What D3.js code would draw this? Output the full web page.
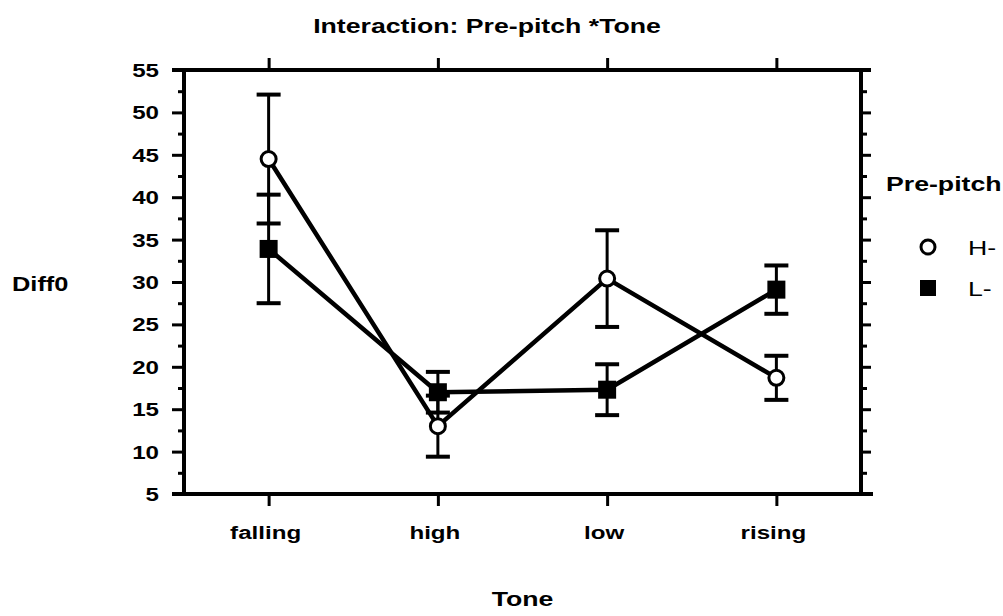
<!DOCTYPE html>
<html>
<head>
<meta charset="utf-8">
<script src="https://cdn.jsdelivr.net/npm/d3@7"></script>
<style>
  body { margin: 0; background: #fff; }
  text { font-family: "Liberation Sans", Arial, Helvetica, sans-serif; fill: #000; }
</style>
</head>
<body>
<svg id="chart"></svg>
<script>
// data
var tones = ["falling", "high", "low", "rising"];
var hMeans = [44.5, 13.0, 30.4, 18.7];
var hErr = [7.6, 3.6, 5.7, 2.6];
var lMeans = [33.9, 17.0, 17.3, 29.1];
var lErr = [6.4, 2.4, 3.0, 2.85];
var yTicks = [5, 10, 15, 20, 25, 30, 35, 40, 45, 50, 55];
var yMinor = [7.5, 12.5, 17.5, 22.5, 27.5, 32.5, 37.5, 42.5, 47.5, 52.5];
var seriesNames = ["H-", "L-"];

var W = 1003, H = 616;
var margin = { top: 70, right: 142, bottom: 122, left: 184 };
var plotW = W - margin.left - margin.right,
    plotH = H - margin.top - margin.bottom;
var stretch = 1.27; // the scan is wider than tall

var svg = d3.select("#chart").attr("width", W).attr("height", H);
svg.append("rect").attr("width", W).attr("height", H).attr("fill", "#fff");

var x = d3.scalePoint().domain(tones).range([0, plotW]).padding(0.5);
var y = d3.scaleLinear().domain([5, 55]).range([plotH, 0]);

var g = svg.append("g").attr("transform", "translate(" + margin.left + "," + margin.top + ")");

function label(sel, tx, ty) {
  return sel.attr("transform", "translate(" + tx + "," + ty + ") scale(" + stretch + ",1)");
}

// axes
function styleAxis(a) {
  a.select(".domain").remove();
  a.selectAll("line").attr("stroke", "#000").attr("stroke-width", 3);
}
var leftAx = g.append("g").call(d3.axisLeft(y).tickValues(yTicks).tickSize(12).tickFormat(""));
styleAxis(leftAx);
var leftMinor = g.append("g").call(d3.axisLeft(y).tickValues(yMinor).tickSize(6).tickFormat(""));
styleAxis(leftMinor);
var rightAx = g.append("g").attr("transform", "translate(" + plotW + ",0)")
  .call(d3.axisRight(y).tickValues(yTicks).tickSize(10).tickFormat(""));
styleAxis(rightAx);
var rightMinor = g.append("g").attr("transform", "translate(" + plotW + ",0)")
  .call(d3.axisRight(y).tickValues(yMinor).tickSize(6).tickFormat(""));
styleAxis(rightMinor);
var topAx = g.append("g").call(d3.axisTop(x).tickSize(12).tickFormat(""));
styleAxis(topAx);
var bottomAx = g.append("g").attr("transform", "translate(0," + plotH + ")")
  .call(d3.axisBottom(x).tickSize(12).tickFormat(""));
styleAxis(bottomAx);

// frame
g.append("line").attr("x1", 0).attr("x2", 0).attr("y1", 0).attr("y2", plotH)
  .attr("stroke", "#000").attr("stroke-width", 4);
g.append("line").attr("x1", plotW).attr("x2", plotW).attr("y1", 0).attr("y2", plotH)
  .attr("stroke", "#000").attr("stroke-width", 4);
g.append("line").attr("x1", -12).attr("x2", plotW + 10).attr("y1", y(55)).attr("y2", y(55))
  .attr("stroke", "#000").attr("stroke-width", 4);
g.append("line").attr("x1", -12).attr("x2", plotW + 12).attr("y1", y(5)).attr("y2", y(5))
  .attr("stroke", "#000").attr("stroke-width", 4);

// tick labels
yTicks.forEach(function(v) {
  label(g.append("text"), -25, y(v) + 7)
    .attr("text-anchor", "end").style("font-size", "19px").style("font-weight", "bold").text(v);
});
tones.forEach(function(t) {
  label(g.append("text"), x(t) - 3, plotH + 45)
    .attr("text-anchor", "middle").style("font-size", "19px").style("font-weight", "bold").text(t);
});

// series
var series = [
  { name: seriesNames[0], means: hMeans, err: hErr, shape: "circle" },
  { name: seriesNames[1], means: lMeans, err: lErr, shape: "square" }
];
var line = d3.line().x(function(d) { return x(d.t); }).y(function(d) { return y(d.v); });

series.forEach(function(s) {
  s.pts = tones.map(function(t, i) { return { t: t, v: s.means[i], e: s.err[i] }; });
  g.append("path").datum(s.pts).attr("d", line)
    .attr("fill", "none").attr("stroke", "#000").attr("stroke-width", 4.5).attr("stroke-linejoin", "round");
});

series.forEach(function(s) {
  var eb = g.append("g").selectAll("g").data(s.pts).enter().append("g");
  eb.append("line")
    .attr("x1", function(d) { return x(d.t); }).attr("x2", function(d) { return x(d.t); })
    .attr("y1", function(d) { return y(d.v - d.e); }).attr("y2", function(d) { return y(d.v + d.e); })
    .attr("stroke", "#000").attr("stroke-width", 3);
  [1, -1].forEach(function(sign) {
    eb.append("line")
      .attr("x1", function(d) { return x(d.t) - 12; }).attr("x2", function(d) { return x(d.t) + 12; })
      .attr("y1", function(d) { return y(d.v + sign * d.e); }).attr("y2", function(d) { return y(d.v + sign * d.e); })
      .attr("stroke", "#000").attr("stroke-width", 4);
  });
});

series.forEach(function(s) {
  var m = g.append("g").selectAll(".m").data(s.pts).enter();
  if (s.shape === "circle") {
    m.append("ellipse").attr("cx", function(d) { return x(d.t); }).attr("cy", function(d) { return y(d.v); })
      .attr("rx", 7.5).attr("ry", 7.5).attr("fill", "#fff").attr("stroke", "#000").attr("stroke-width", 3);
  } else {
    m.append("rect").attr("x", function(d) { return x(d.t) - 9; }).attr("y", function(d) { return y(d.v) - 9; })
      .attr("width", 18).attr("height", 18).attr("fill", "#000");
  }
});

// titles
label(svg.append("text"), 487, 33).attr("text-anchor", "middle")
  .style("font-size", "21px").style("font-weight", "bold").text("Interaction: Pre-pitch *Tone");
label(svg.append("text"), 12, 291)
  .style("font-size", "20px").style("font-weight", "bold").text("Diff0");
label(svg.append("text"), margin.left + plotW / 2, 606).attr("text-anchor", "middle")
  .style("font-size", "21px").style("font-weight", "bold").text("Tone");

// legend
var lg = svg.append("g").attr("transform", "translate(886,0)");
label(lg.append("text"), 0, 191).style("font-size", "21px").style("font-weight", "bold").text("Pre-pitch");
series.forEach(function(s, i) {
  var cy = 247 + i * 41;
  if (s.shape === "circle") {
    lg.append("circle").attr("cx", 42).attr("cy", cy).attr("r", 7)
      .attr("fill", "#fff").attr("stroke", "#000").attr("stroke-width", 3);
  } else {
    lg.append("rect").attr("x", 34).attr("y", cy - 8).attr("width", 16).attr("height", 16).attr("fill", "#000");
  }
  label(lg.append("text"), 82, cy + 8).style("font-size", "21px").text(s.name);
});
</script>
</body>
</html>
